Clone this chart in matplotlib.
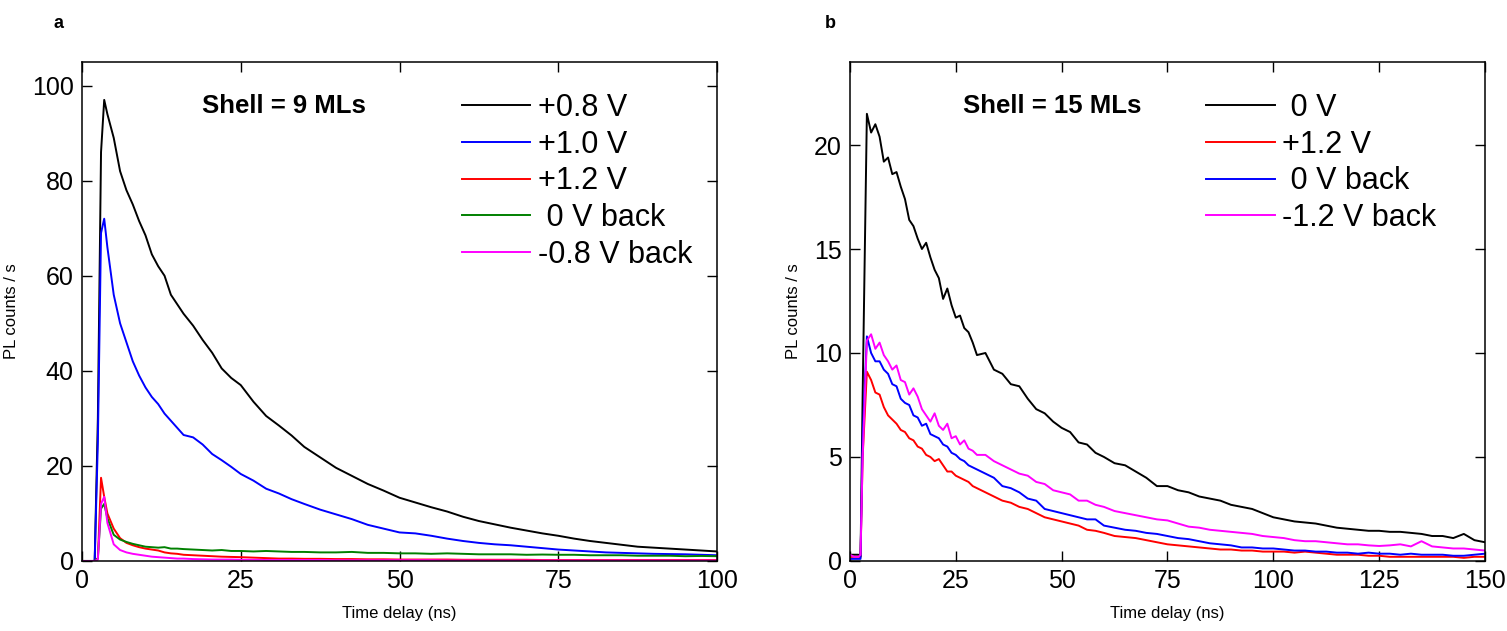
import matplotlib
matplotlib.use('Agg')
import matplotlib.pyplot as plt

plt.rcParams['font.family'] = ['Liberation Sans', 'DejaVu Sans']

# ---- panel a : shell = 9 MLs ----
t_a = [0, 1, 2, 2.5, 3, 3.5, 4,
       5, 6, 7, 8, 9, 10, 11, 12, 13, 14, 15, 16,
       17.5, 19, 20.5, 22, 23.5, 25,
       27, 29, 31, 33, 35,
       37.5, 40, 42.5, 45, 47.5, 50, 52.5, 55, 57.5, 60, 62.5, 65, 67.5,
       70, 72.5, 75, 77.5, 80, 82.5, 85, 87.5, 90, 92.5, 95, 97.5, 100]

a_p08 = [0, 0, 0, 30, 86, 97, 94,
         89, 82, 78, 75, 71.5, 68.5, 64.5, 62, 60, 56, 54, 52,
         49.5, 46.5, 43.8, 40.5, 38.5, 37,
         33.5, 30.5, 28.5, 26.4, 24,
         21.8, 19.6, 17.9, 16.2, 14.8, 13.3, 12.3, 11.3, 10.4, 9.3, 8.4, 7.7, 7.0,
         6.4, 5.8, 5.3, 4.7, 4.2, 3.8, 3.4, 3.0, 2.8, 2.6, 2.4, 2.2, 2.0]
a_p10 = [0, 0, 0, 25, 69, 72, 66,
         56, 50, 46, 42, 39, 36.5, 34.5, 33, 31, 29.5, 28, 26.5,
         26, 24.5, 22.5, 21.2, 19.8, 18.3,
         16.9, 15.2, 14.2, 13.0, 12.0,
         10.8, 9.8, 8.8, 7.6, 6.8, 6.0, 5.8, 5.3, 4.7, 4.2, 3.8, 3.5, 3.3,
         3.0, 2.7, 2.4, 2.2, 2.0, 1.8, 1.7, 1.6, 1.5, 1.45, 1.4, 1.3, 1.2]
a_p12 = [0, 0, 0, 0.5, 17.5, 13.5, 10,
         6.8, 4.8, 3.8, 3.3, 2.9, 2.6, 2.4, 2.2, 1.8, 1.6, 1.5, 1.3,
         1.2, 1.1, 1.0, 0.9, 0.85, 0.8,
         0.7, 0.6, 0.5, 0.5, 0.45,
         0.45, 0.4, 0.4, 0.35, 0.35, 0.3, 0.3, 0.3, 0.3, 0.25, 0.25, 0.25, 0.25,
         0.25, 0.2, 0.2, 0.2, 0.2, 0.2, 0.2, 0.2, 0.2, 0.2, 0.2, 0.2, 0.2]
a_0back = [0, 0, 0, 0.5, 11, 12, 9,
           5.5, 4.5, 4.0, 3.6, 3.3, 3.0, 2.9, 2.8, 2.9, 2.6, 2.6, 2.5,
           2.4, 2.3, 2.2, 2.3, 2.1, 2.1,
           2.0, 2.1, 2.0, 1.9, 1.9,
           1.8, 1.8, 1.9, 1.7, 1.7, 1.6, 1.6, 1.5, 1.6, 1.5, 1.4, 1.4, 1.4,
           1.3, 1.35, 1.3, 1.3, 1.2, 1.2, 1.2, 1.1, 1.1, 1.1, 1.0, 1.05, 1.0]
a_m08back = [0, 0, 0, 0.3, 12, 13.5, 8,
             3.5, 2.3, 1.8, 1.5, 1.3, 1.1, 0.9, 0.8, 0.7, 0.6, 0.5, 0.5,
             0.4, 0.35, 0.3, 0.3, 0.3, 0.25,
             0.25, 0.2, 0.2, 0.2, 0.2,
             0.2, 0.15, 0.15, 0.15, 0.15, 0.15, 0.15, 0.15, 0.1, 0.1, 0.1, 0.1, 0.1,
             0.1, 0.1, 0.1, 0.1, 0.1, 0.1, 0.1, 0.1, 0.1, 0.1, 0.1, 0.1, 0.1]

# ---- panel b : shell = 15 MLs ----
t_b = [0, 1, 2, 2.5, 3,
       4, 5, 6, 7, 8, 9, 10, 11, 12, 13, 14, 15, 16, 17, 18, 19, 20, 21, 22,
       23, 24, 25, 26, 27, 28, 29, 30,
       32, 34, 36, 38, 40, 42, 44, 46, 48, 50, 52, 54, 56, 58, 60,
       62.5, 65, 67.5, 70, 72.5, 75, 77.5, 80, 82.5, 85, 87.5, 90, 92.5, 95,
       97.5, 100, 102.5, 105, 107.5, 110, 112.5, 115, 117.5, 120, 122.5, 125,
       127.5, 130, 132.5, 135, 137.5, 140, 142.5, 145, 147.5, 150]

b_0 = [0.3, 0.3, 0.3, 0.2, 8,
       21.5, 20.6, 21.0, 20.4, 19.2, 19.4, 18.6, 18.7, 18.0, 17.4, 16.4, 16.1,
       15.5, 15.0, 15.3, 14.6, 14.0, 13.6, 12.6, 13.1, 12.3, 11.7, 11.8, 11.2,
       11.0, 10.5, 9.9,
       10.0, 9.2, 9.0, 8.5, 8.4, 7.8, 7.3, 7.1, 6.7, 6.4, 6.2, 5.7, 5.6, 5.2, 5.0,
       4.7, 4.6, 4.3, 4.0, 3.6, 3.6, 3.4, 3.3, 3.1, 3.0, 2.9, 2.7, 2.6, 2.5,
       2.3, 2.1, 2.0, 1.9, 1.85, 1.8, 1.7, 1.6, 1.55, 1.5, 1.45, 1.45,
       1.4, 1.4, 1.35, 1.3, 1.2, 1.2, 1.1, 1.3, 1.0, 0.9]
b_p12 = [0.2, 0.2, 0.2, 0.2, 5,
         9.1, 8.7, 8.1, 8.0, 7.4, 7.0, 6.8, 6.6, 6.3, 6.2, 5.9, 5.8,
         5.5, 5.4, 5.1, 5.0, 4.8, 4.9, 4.6, 4.3, 4.3, 4.1, 4.0, 3.9,
         3.8, 3.6, 3.5,
         3.3, 3.1, 2.9, 2.8, 2.6, 2.5, 2.3, 2.1, 2.0, 1.9, 1.8, 1.7, 1.5, 1.45, 1.35,
         1.2, 1.15, 1.1, 1.0, 0.9, 0.8, 0.75, 0.7, 0.65, 0.6, 0.55, 0.55, 0.5, 0.5,
         0.45, 0.45, 0.45, 0.4, 0.45, 0.4, 0.35, 0.3, 0.3, 0.3, 0.25, 0.25,
         0.2, 0.2, 0.2, 0.2, 0.2, 0.2, 0.2, 0.15, 0.2, 0.2]
b_0back = [0.1, 0.1, 0.1, 0.1, 6,
           10.8, 10.0, 9.6, 9.6, 9.2, 9.0, 8.5, 8.4, 7.8, 7.6, 7.5, 7.0,
           6.9, 6.5, 6.6, 6.1, 6.0, 5.9, 5.6, 5.5, 5.2, 5.1, 4.9, 4.8,
           4.6, 4.5, 4.4,
           4.2, 4.0, 3.6, 3.5, 3.3, 3.0, 2.9, 2.5, 2.4, 2.3, 2.2, 2.1, 2.0, 2.0, 1.7,
           1.6, 1.5, 1.45, 1.35, 1.3, 1.2, 1.1, 1.05, 0.95, 0.85, 0.8, 0.75, 0.65, 0.65,
           0.6, 0.6, 0.55, 0.5, 0.5, 0.45, 0.45, 0.4, 0.4, 0.35, 0.4, 0.35,
           0.35, 0.3, 0.35, 0.3, 0.3, 0.3, 0.25, 0.25, 0.3, 0.35]
b_m12back = [0.3, 0.2, 0.2, 0.3, 5,
             10.6, 10.9, 10.2, 10.5, 9.9, 9.6, 9.2, 9.4, 8.7, 8.6, 8.0, 8.3,
             7.9, 7.3, 7.0, 6.7, 7.1, 6.5, 6.3, 6.6, 5.9, 6.0, 5.6, 5.8,
             5.4, 5.3, 5.1,
             5.1, 4.8, 4.6, 4.4, 4.2, 4.1, 3.8, 3.7, 3.4, 3.3, 3.2, 2.9, 2.9, 2.7, 2.6,
             2.4, 2.3, 2.2, 2.1, 2.0, 1.95, 1.8, 1.65, 1.6, 1.5, 1.45, 1.4, 1.35, 1.3,
             1.2, 1.15, 1.1, 1.0, 0.95, 0.95, 0.9, 0.85, 0.8, 0.8, 0.75, 0.72,
             0.75, 0.8, 0.7, 0.95, 0.7, 0.65, 0.6, 0.6, 0.55, 0.5]

fig = plt.figure(figsize=(15.07, 6.31), dpi=100)
ax_a = fig.add_axes([0.0544, 0.111, 0.4214, 0.791])
ax_b = fig.add_axes([0.564, 0.111, 0.4214, 0.791])

lw = 1.4
ax_a.plot(t_a, a_p08, color='black', lw=lw, label='+0.8 V')
ax_a.plot(t_a, a_p10, color='#0000ff', lw=lw, label='+1.0 V')
ax_a.plot(t_a, a_p12, color='#ff0000', lw=lw, label='+1.2 V')
ax_a.plot(t_a, a_0back, color='#008000', lw=lw, label=' 0 V back')
ax_a.plot(t_a, a_m08back, color='#ff00ff', lw=lw, label='-0.8 V back')

ax_b.plot(t_b, b_0, color='black', lw=lw, label=' 0 V')
ax_b.plot(t_b, b_p12, color='#ff0000', lw=lw, label='+1.2 V')
ax_b.plot(t_b, b_0back, color='#0000ff', lw=lw, label=' 0 V back')
ax_b.plot(t_b, b_m12back, color='#ff00ff', lw=lw, label='-1.2 V back')

ax_a.set_xlim(0, 100)
ax_a.set_ylim(0, 105)
ax_a.set_xticks([0, 25, 50, 75, 100])
ax_a.set_yticks([0, 20, 40, 60, 80, 100])
ax_b.set_xlim(0, 150)
ax_b.set_ylim(0, 24)
ax_b.set_xticks([0, 25, 50, 75, 100, 125, 150])
ax_b.set_yticks([0, 5, 10, 15, 20])

for ax, shell, lx in [(ax_a, 'Shell = 9 MLs', 0.598), (ax_b, 'Shell = 15 MLs', 0.561)]:
    for s in ax.spines.values():
        s.set_linewidth(1.1)
    ax.tick_params(direction='in', top=True, right=True, length=7, width=1,
                   labelsize=18, pad=6)
    ax.set_xlabel('Time delay (ns)', fontsize=12, labelpad=9)
    ax.set_ylabel('PL counts / s', fontsize=12, labelpad=9)
    ax.text(0.318, 0.912, shell, transform=ax.transAxes, fontsize=18.5,
            fontweight='bold', ha='center', va='center')
    ax.legend(loc='upper left', bbox_to_anchor=(lx, 0.938), frameon=False,
              fontsize=22, handlelength=2.25, handletextpad=0.23,
              labelspacing=0.22, borderpad=0, borderaxespad=0)

fig.text(0.039, 0.962, 'a', fontsize=13, fontweight='bold', ha='center', va='center')
fig.text(0.551, 0.962, 'b', fontsize=13, fontweight='bold', ha='center', va='center')

plt.savefig('out.png', dpi=100)
